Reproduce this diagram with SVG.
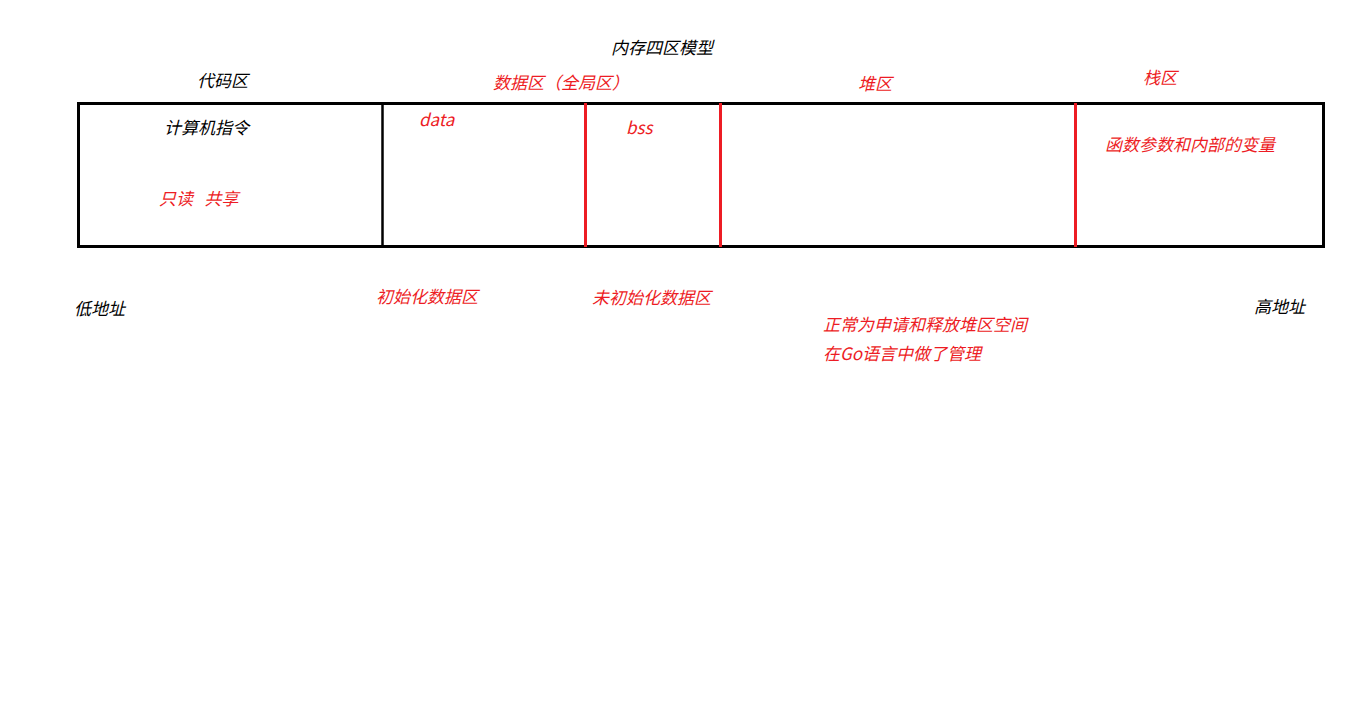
<svg xmlns="http://www.w3.org/2000/svg" width="1360" height="705" viewBox="0 0 1360 705">
<style>
text{font-family:"Noto Sans CJK SC","Liberation Sans",sans-serif;font-size:17px;font-style:italic;}
.k{fill:#000}
.r{fill:#ed1c24}
.box{fill:none;stroke:#000;stroke-width:3}
.bl{stroke:#000;stroke-width:2.5}
.rl{stroke:#ed1c24;stroke-width:3}
</style>
<rect width="1360" height="705" fill="#fff"/>
<g id="title"><text class="k" x="611" y="54">内存四区模型</text></g>
<g id="memory">
<rect class="box" x="78.5" y="103.5" width="1245" height="143"/>
<line class="bl" x1="382.5" y1="103" x2="382.5" y2="247"/>
<line class="rl" x1="585.5" y1="103" x2="585.5" y2="247"/>
<line class="rl" x1="720.5" y1="103" x2="720.5" y2="247"/>
<line class="rl" x1="1075.5" y1="103" x2="1075.5" y2="247"/>
</g>
<g id="code">
<text class="k" x="197" y="87">代码区</text>
<text class="k" x="164" y="134">计算机指令</text>
<text class="r" x="159" y="205" xml:space="preserve">只读   共享</text>
</g>
<g id="data">
<text class="r" x="493" y="89">数据区（全局区）</text>
<text class="r" x="419" y="126">data</text>
<text class="r" x="626" y="134">bss</text>
<text class="r" x="376" y="303">初始化数据区</text>
<text class="r" x="592" y="304">未初始化数据区</text>
</g>
<g id="heap">
<text class="r" x="858" y="90">堆区</text>
<text class="r" x="823" y="331">正常为申请和释放堆区空间</text>
<text class="r" x="823" y="360">在Go语言中做了管理</text>
</g>
<g id="stack">
<text class="r" x="1143" y="84">栈区</text>
<text class="r" x="1105" y="151">函数参数和内部的变量</text>
</g>
<g id="addr">
<text class="k" x="74" y="315">低地址</text>
<text class="k" x="1254" y="313">高地址</text>
</g>
</svg>
